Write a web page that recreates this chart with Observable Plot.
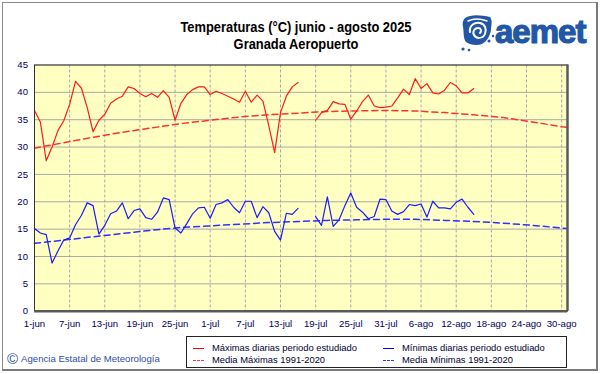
<!DOCTYPE html>
<html><head><meta charset="utf-8">
<script src="https://cdn.jsdelivr.net/npm/d3@7"></script>
<script src="https://cdn.jsdelivr.net/npm/@observablehq/plot@0.6"></script>
<style>
body{margin:0;background:#fff;}
#wrap{position:relative;width:601px;height:374px;overflow:hidden;background:#fff;font-family:"Liberation Sans",Arial,sans-serif;}
#frame{position:absolute;left:2px;top:2px;width:593px;height:366px;border:1px solid #8a8a8a;border-right:2px solid #7a7a7a;border-bottom:2px solid #7a7a7a;}
#chart{position:absolute;left:0;top:0;}
#title{position:absolute;left:0;width:592px;top:19px;text-align:center;font-weight:bold;font-size:14px;line-height:17px;color:#000;transform:scaleX(0.92);transform-origin:296px 0;}
#logo{position:absolute;left:460px;top:12px;}
#legend{position:absolute;left:186px;top:336px;width:379px;height:30px;border:1px solid #222;background:#fff;font-size:9.4px;color:#000033;}
.li{position:absolute;white-space:nowrap;line-height:11px;}
.sw{position:absolute;width:11px;height:0;}
#footer{position:absolute;left:7px;top:350px;font-size:9.6px;color:#2e4fa3;white-space:nowrap;}
#footer .c{font-size:15px;vertical-align:-2px;margin-right:3px;}
</style></head><body>
<div id="wrap">
  <div id="frame"></div>
  <div id="chart"></div>
  <div id="title">Temperaturas (°C) junio - agosto 2025<br>Granada Aeropuerto</div>
  <div id="logo">
    <svg width="135" height="42" viewBox="0 0 135 42">
      <path d="M5 6 C11 2 21 3 30 5 C33 9 31 14 31 18 C30 24 27 29 22 32 C17 34 10 33 6 30 C3 26 4 20 3 15 C2 11 3 8 5 6 Z" fill="#2157a6"/>
      <g fill="none" stroke="#fff" stroke-linecap="round">
        <path d="M10 20 C9 13 15 10 20 11 C25 12 27 17 25 22 C23 27 16 27 14 23 C12 19 15 16 18 16 C21 16 22 19 20 21" stroke-width="2"/>
        <path d="M8 9 C14 6 22 7 27 9" stroke-width="1.5"/>
      </g>
      <g fill="#2157a6">
        <circle cx="3" cy="37" r="1.6"/><circle cx="9" cy="38" r="1.3"/><circle cx="29" cy="29" r="1.5"/><circle cx="33" cy="24" r="1.2"/>
        <text x="35" y="31" font-family="'Liberation Sans',Arial,sans-serif" font-weight="bold" font-size="33" stroke="#2157a6" stroke-width="1.2" letter-spacing="-1">aemet</text>
      </g>
    </svg>
  </div>
  <div id="legend">
    <div class="sw" style="left:6px;top:11px;border-top:1.5px solid #ff0000;"></div>
    <div class="li" style="left:25px;top:5px;">Máximas diarias periodo estudiado</div>
    <div class="sw" style="left:6px;top:23px;border-top:1.5px dashed #ff3333;"></div>
    <div class="li" style="left:25px;top:17px;">Media Máximas 1991-2020</div>
    <div class="sw" style="left:196px;top:11px;border-top:1.5px solid #0000ff;"></div>
    <div class="li" style="left:215px;top:5px;">Mínimas diarias periodo estudiado</div>
    <div class="sw" style="left:196px;top:23px;border-top:1.5px dashed #3333ff;"></div>
    <div class="li" style="left:215px;top:17px;">Media Mínimas 1991-2020</div>
  </div>
  <div id="footer"><span class="c">©</span>Agencia Estatal de Meteorología</div>
</div>
<script>
// Day index 0 = 1-jun-2025 ... 91 = 31-ago-2025
const tmax = [36.7,34.6,27.5,30.0,33.0,34.8,37.8,42.0,40.8,37.2,
  32.8,34.9,36.0,38.0,38.8,39.3,41.0,40.7,39.8,39.2,
  39.8,39.1,40.3,39.1,34.9,38.0,39.6,40.5,41.0,41.0,
  39.6,40.2,39.8,39.3,38.8,38.2,40.2,38.2,39.5,38.4,
  33.9,29.0,36.3,39.3,41.0,41.8,null,null,34.9,36.3,
  36.7,38.3,37.9,37.8,35.1,36.6,38.3,39.5,37.5,37.2,
  37.3,37.5,39.0,40.6,39.6,42.5,40.7,41.6,39.9,39.7,
  40.4,41.8,41.2,39.9,39.9,40.7];
const tmin = [15.1,14.3,14.0,8.8,11.0,13.0,13.4,15.8,17.5,19.8,
  19.3,14.1,15.7,17.8,18.3,19.8,16.9,18.4,18.7,17.1,
  16.8,18.1,20.7,20.4,15.2,14.3,16.0,17.8,18.9,19.0,
  17.0,19.5,19.8,20.4,19.0,18.0,20.1,20.1,17.1,19.1,
  18.0,14.6,13.0,17.9,17.7,18.8,null,null,17.3,15.7,
  20.9,15.5,16.7,19.3,21.6,19.0,18.1,16.9,17.3,20.5,
  20.4,18.3,17.7,18.2,19.5,19.3,19.6,17.2,20.1,18.9,
  18.9,18.7,19.9,20.5,19.0,17.7];
const normalDays = [0,5,10,15,20,25,30,35,40,45,50,55,60,65,70,75,80,85,90,91];
const normalMax = [29.8,30.8,31.8,32.7,33.5,34.3,34.9,35.5,35.9,36.2,36.5,36.6,36.7,36.6,36.3,35.9,35.4,34.6,33.7,33.6];
const normalMin = [12.4,13.0,13.6,14.2,14.8,15.3,15.6,15.9,16.2,16.4,16.6,16.7,16.8,16.8,16.6,16.4,16.1,15.7,15.2,15.1];
const tickDays = [0,6,12,18,24,30,36,42,48,54,60,66,72,78,84,90];
const tickLabels = ["1-jun","7-jun","13-jun","19-jun","25-jun","1-jul","7-jul","13-jul","19-jul","25-jul","31-jul","6-ago","12-ago","18-ago","24-ago","30-ago"];
const yTicks = [0,5,10,15,20,25,30,35,40,45];

const maxData = tmax.map((v,i)=>({day:i, v}));
const minData = tmin.map((v,i)=>({day:i, v}));
const nMaxData = normalDays.map((d,i)=>({day:d, v:normalMax[i]}));
const nMinData = normalDays.map((d,i)=>({day:d, v:normalMin[i]}));
const labelOf = new Map(tickDays.map((d,i)=>[d, tickLabels[i]]));

const chart = Plot.plot({
  width: 601, height: 374,
  marginLeft: 34, marginRight: 34, marginTop: 64.5, marginBottom: 63.3,
  style: {background:"transparent", fontFamily:"'Liberation Sans',Arial,sans-serif", fontSize:"9.6px", color:"#00005a", overflow:"visible"},
  x: {domain:[0,91]},
  y: {domain:[0,45]},
  marks: [
    Plot.frame({fill:"#ffffc2"}),
    Plot.gridY(yTicks, {stroke:"#a8a8a8", strokeOpacity:1}),
    Plot.gridX(tickDays, {stroke:"#a8a8a8", strokeOpacity:1, strokeDasharray:"3,2"}),
    Plot.line(nMaxData, {x:"day", y:"v", stroke:"#ff3030", strokeWidth:1.5, strokeDasharray:"6,4"}),
    Plot.line(nMinData, {x:"day", y:"v", stroke:"#3030ff", strokeWidth:1.5, strokeDasharray:"6,4"}),
    Plot.line(maxData, {x:"day", y:"v", stroke:"#ff1a1a", strokeWidth:1.2}),
    Plot.line(minData, {x:"day", y:"v", stroke:"#1a1aff", strokeWidth:1.2}),
    Plot.axisX(tickDays, {label:null, tickSize:0, tickPadding:8.5, tickFormat:d=>labelOf.get(d)}),
    Plot.axisY(yTicks, {label:null, tickSize:0, tickPadding:6.5}),
    Plot.frame({stroke:"#333", strokeWidth:1}),
    Plot.ruleY([0], {stroke:"#5a5a5a", strokeWidth:2.5}),
    Plot.ruleX([91], {stroke:"#5a5a5a", strokeWidth:2.5})
  ]
});
document.getElementById("chart").appendChild(chart);
</script>
</body></html>
